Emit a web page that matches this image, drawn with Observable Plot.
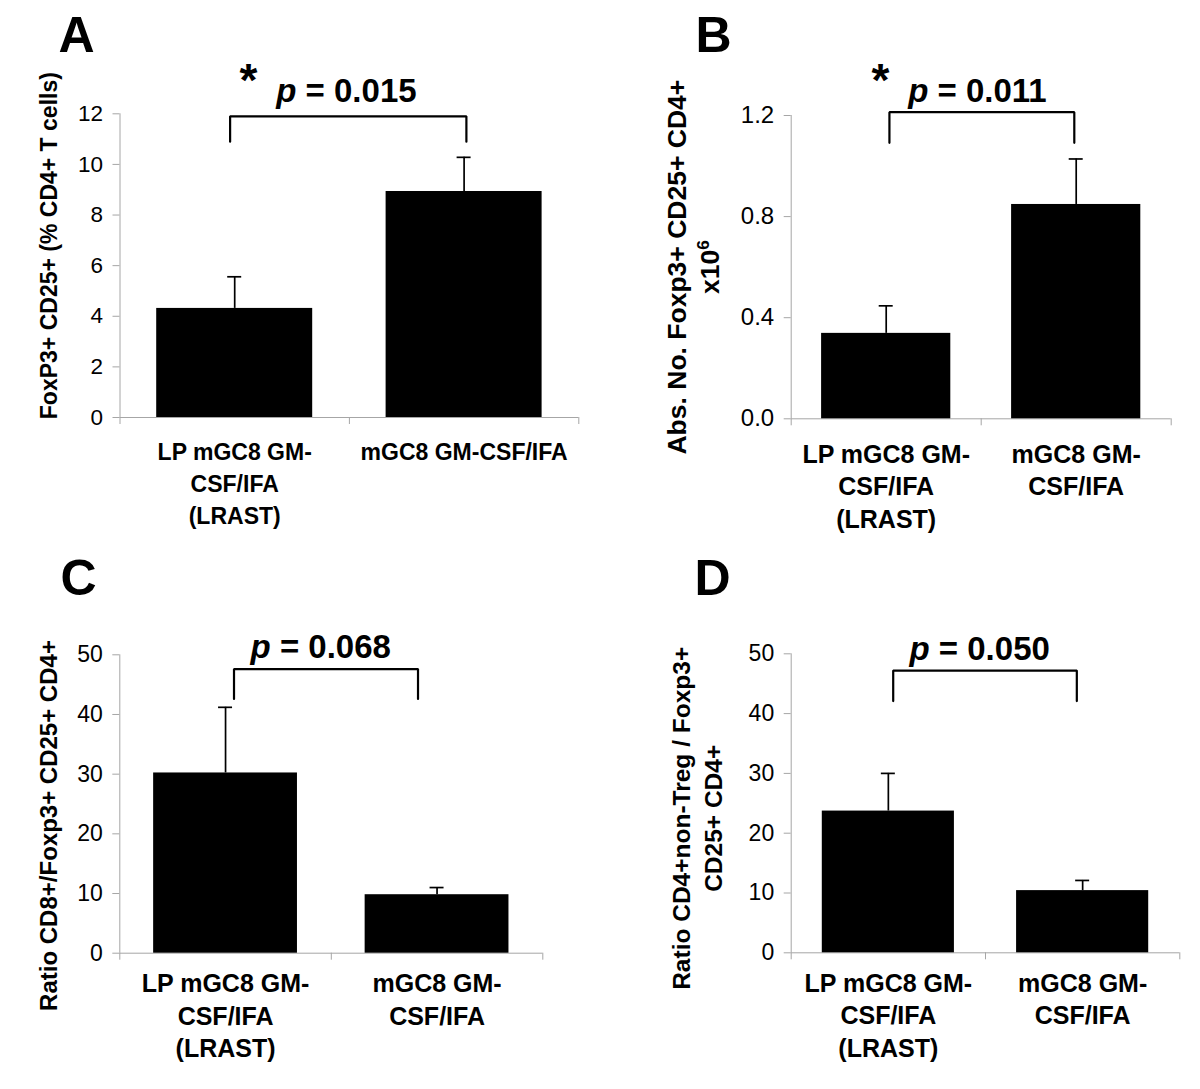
<!DOCTYPE html>
<html><head><meta charset="utf-8">
<script src="https://cdn.jsdelivr.net/npm/d3@7"></script>
<script src="https://cdn.jsdelivr.net/npm/@observablehq/plot@0.6"></script>
<style>
body{margin:0;background:#fff;}
#fig{position:relative;width:1200px;height:1089px;background:#fff;}
#fig svg{position:absolute;}
</style></head><body><div id="fig"></div>
<script>
// ---- data ----
const categoriesA = ["LP mGC8 GM-\nCSF/IFA\n(LRAST)", "mGC8 GM-CSF/IFA"];
const categoriesBCD = ["LP mGC8 GM-\nCSF/IFA\n(LRAST)", "mGC8 GM-\nCSF/IFA"];

const meanA = [4.31, 8.93];   const errTopA = [5.56, 10.28];
const meanB = [0.338, 0.848]; const errTopB = [0.447, 1.028];
const meanC = [30.2, 9.8];    const errTopC = [41.2, 11.0];
const meanD = [23.7, 10.4];   const errTopD = [30.0, 12.1];

const ticksA = [0, 2, 4, 6, 8, 10, 12];
const ticksB = [0, 0.4, 0.8, 1.2];
const ticksCD = [0, 10, 20, 30, 40, 50];

const pTextA = "p = 0.015", pTextB = "p = 0.011", pTextC = "p = 0.068", pTextD = "p = 0.050";
const yLabelA = "FoxP3+ CD25+ (% CD4+ T cells)";
const yLabelB = "Abs. No. Foxp3+ CD25+ CD4+\nx10";
const yLabelC = "Ratio CD8+/Foxp3+ CD25+ CD4+";
const yLabelD = "Ratio CD4+non-Treg / Foxp3+\nCD25+ CD4+";

// bracket (x of the two legs, [top, leg bottom] in data units)
const bracketXA = [0.48, 1.51], bracketYA = [11.9, 10.9];
const bracketXB = [0.517, 1.49], bracketYB = [1.213, 1.092];
const bracketXC = [0.54, 1.41], bracketYC = [47.6, 42.6];
const bracketXD = [0.525, 1.47], bracketYD = [47.2, 42.1];

const FONT = "'Liberation Sans', Arial, Helvetica, sans-serif";
const GRAY = "#a6a6a6";

const panels = [
  {letter: "A", left: 0, top: 0, width: 600, height: 545, mt: 113.3, ml: 119.5, mr: 21.7, mb: 128,
   domain: [0, 12], ticks: ticksA, fmt: d => String(d), tickFs: 22.5, mean: meanA, err: errTopA, cats: categoriesA,
   bx: bracketXA, by: bracketYA, p: pTextA, px: 0.987, py: 12.89, star: [0.56, 13.3],
   ylabel: yLabelA, yl: {dx: -73.5, dy: -20, fs: 23, lh: 1.4},
   letterPos: {dx: -43.5, dy: -97}, cat: {dy: 19, fs: 23, lh: 1.41}},
  {letter: "B", left: 600, top: 0, width: 600, height: 545, mt: 115, ml: 190.7, mr: 29.3, mb: 126.7,
   domain: [0, 1.2], ticks: ticksB, fmt: d3.format(".1f"), tickFs: 24, mean: meanB, err: errTopB, cats: categoriesBCD,
   bx: bracketXB, by: bracketYB, p: pTextB, px: 0.98, py: 1.295, star: [0.47, 1.335],
   ylabel: yLabelB, yl: {dx: -99, dy: 0, fs: 26.5, lh: 1.25},
   letterPos: {dx: -77.7, dy: -99}, cat: {dy: 21, fs: 25, lh: 1.3}},
  {letter: "C", left: 0, top: 545, width: 600, height: 544, mt: 109.3, ml: 119.3, mr: 57.7, mb: 136.3,
   domain: [0, 50], ticks: ticksCD, fmt: d => String(d), tickFs: 23, mean: meanC, err: errTopC, cats: categoriesBCD,
   bx: bracketXC, by: bracketYC, p: pTextC, px: 0.95, py: 51.2, star: null,
   ylabel: yLabelC, yl: {dx: -73.3, dy: 21.5, fs: 24, lh: 1.4},
   letterPos: {dx: -41.3, dy: -95}, cat: {dy: 16, fs: 25, lh: 1.3}},
  {letter: "D", left: 600, top: 545, width: 600, height: 544, mt: 108.3, ml: 190.7, mr: 20.7, mb: 136.7,
   domain: [0, 50], ticks: ticksCD, fmt: d => String(d), tickFs: 23, mean: meanD, err: errTopD, cats: categoriesBCD,
   bx: bracketXD, by: bracketYD, p: pTextD, px: 0.97, py: 50.8, star: null,
   ylabel: yLabelD, yl: {dx: -95, dy: 15, fs: 24.5, lh: 1.3},
   letterPos: {dx: -78.7, dy: -94}, cat: {dy: 16, fs: 25, lh: 1.3}}
];

const fig = document.getElementById("fig");

for (const cfg of panels) {
  const unit = (cfg.width - cfg.ml - cfg.mr) / 2;
  const capHalf = 7 / unit;
  const halfBar = 0.34;
  const rows = cfg.mean.map((v, i) => ({c: i + 0.5, v, e: cfg.err[i], label: cfg.cats[i]}));
  const bracket = [
    [cfg.bx[0], cfg.by[1]], [cfg.bx[0], cfg.by[0]], [cfg.bx[1], cfg.by[0]], [cfg.bx[1], cfg.by[1]]
  ];
  const marks = [
    Plot.axisY({ticks: cfg.ticks, tickSize: 7, tickPadding: 10, fontSize: cfg.tickFs, tickFormat: cfg.fmt,
      stroke: GRAY, fill: "black", label: null, ariaLabel: "y-axis"}),
    Plot.ruleX([0], {x: d => d, y1: () => cfg.domain[0], y2: () => cfg.domain[1], stroke: GRAY}),
    Plot.ruleY([0], {y: d => d, x1: () => 0, x2: () => 2, stroke: GRAY}),
    Plot.axisX({ticks: [0, 1, 2], tickSize: 7, tickFormat: () => "", stroke: GRAY, label: null}),
    Plot.rectY(rows, {x1: d => d.c - halfBar, x2: d => d.c + halfBar, y1: () => 0, y2: "v", fill: "black"}),
    Plot.ruleX(rows, {x: "c", y1: "v", y2: "e", stroke: "black", strokeWidth: 1.7}),
    Plot.ruleY(rows, {y: "e", x1: d => d.c - capHalf, x2: d => d.c + capHalf, stroke: "black", strokeWidth: 1.7}),
    Plot.line(bracket, {x: d => d[0], y: d => d[1], stroke: "black", strokeWidth: 2.2, strokeLinejoin: "miter"}),
    Plot.text(rows, {x: "c", y: () => 0, text: "label", lineAnchor: "top", dy: cfg.cat.dy,
      fontSize: cfg.cat.fs, fontWeight: "bold", lineHeight: cfg.cat.lh, fill: "black"}),
    Plot.text([cfg.p], {x: () => cfg.px, y: () => cfg.py, text: d => d, fontSize: 33, fontWeight: "bold",
      textAnchor: "middle", lineAnchor: "middle", fill: "black"}),
    Plot.text([cfg.letter], {frameAnchor: "top-left", text: d => d, dx: cfg.letterPos.dx, dy: cfg.letterPos.dy,
      fontSize: 50, fontWeight: "bold", textAnchor: "middle", lineAnchor: "top", fill: "black"}),
    Plot.text([cfg.ylabel], {frameAnchor: "left", text: d => d, rotate: -90, dx: cfg.yl.dx, dy: cfg.yl.dy,
      fontSize: cfg.yl.fs, fontWeight: "bold", textAnchor: "middle", lineAnchor: "middle",
      lineHeight: cfg.yl.lh, fill: "black"})
  ];
  if (cfg.star) {
    marks.push(Plot.text(["*"], {x: () => cfg.star[0], y: () => cfg.star[1], text: d => d, fontSize: 46,
      fontWeight: "bold", textAnchor: "middle", lineAnchor: "middle", fill: "black"}));
  }
  const svg = Plot.plot({
    width: cfg.width, height: cfg.height,
    marginTop: cfg.mt, marginLeft: cfg.ml, marginRight: cfg.mr, marginBottom: cfg.mb,
    x: {type: "linear", domain: [0, 2]},
    y: {type: "linear", domain: cfg.domain},
    style: {fontFamily: FONT, fontSize: "22px", background: "transparent", overflow: "visible", color: "black"},
    marks
  });
  svg.style.left = cfg.left + "px";
  svg.style.top = cfg.top + "px";
  fig.appendChild(svg);

  // make sure the y tick labels get their size
  d3.select(svg).selectAll("g[aria-label='y-axis tick label']").attr("font-size", cfg.tickFs)
    .selectAll("text").attr("font-size", cfg.tickFs);

  // italic "p" and superscript "6"
  d3.select(svg).selectAll("text, tspan").each(function () {
    if (this.childElementCount > 0) return;
    const t = this.textContent;
    if (t.startsWith("p = ")) {
      this.textContent = "";
      const s = d3.select(this);
      s.append("tspan").attr("font-style", "italic").text("p");
      s.append("tspan").text(t.slice(1));
    } else if (t === "x10") {
      d3.select(this).append("tspan").attr("baseline-shift", "super").attr("font-size", "0.65em").text("6");
    }
  });
}
</script>
</body></html>
